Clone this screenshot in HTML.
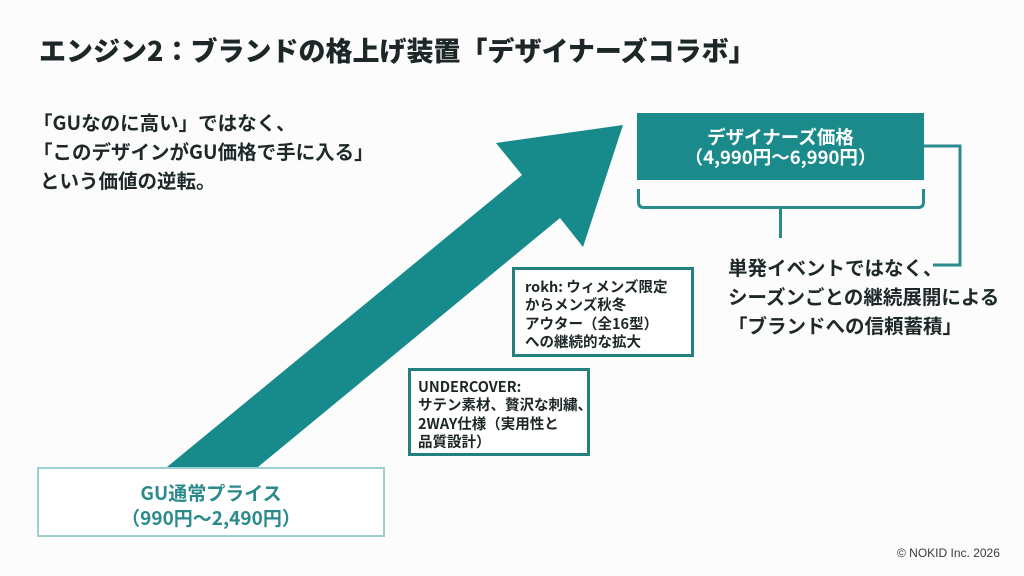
<!DOCTYPE html>
<html><head><meta charset="utf-8">
<style>
html,body{margin:0;padding:0;}
body{width:1024px;height:576px;position:relative;overflow:hidden;background:#fcfcfc;font-family:"Liberation Sans","Noto Sans CJK JP",sans-serif;color:#1e2828;}
.abs{position:absolute;white-space:nowrap;}
.title{left:39px;top:32px;font-size:27px;line-height:36px;font-weight:900;color:#1d2727;font-family:"Noto Sans CJK JP","Liberation Sans",sans-serif;}
.sub{left:33px;top:107px;font-size:19.5px;line-height:29px;font-weight:700;font-family:"Noto Sans CJK JP","Liberation Sans",sans-serif;}
.box{position:absolute;box-sizing:border-box;}
.small{font-size:14.5px;line-height:18.3px;font-weight:700;font-family:"Noto Sans CJK JP","Liberation Sans",sans-serif;color:#1d2626;}
.right{left:728px;top:252px;font-size:19.5px;line-height:29px;font-weight:700;font-family:"Noto Sans CJK JP","Liberation Sans",sans-serif;}
</style></head><body>
<svg width="1024" height="576" style="position:absolute;left:0;top:0">
  <polygon points="167,467 522,175 496,143 623,125 583,247 560,218 258,467" fill="#178a8b"/>
  <path d="M638.5,189 V202 Q638.5,207.5 644,207.5 H918 Q923.5,207.5 923.5,202 V189" fill="none" stroke="#2a8a8b" stroke-width="3"/>
  <path d="M780.5,207.5 V238" fill="none" stroke="#2a8a8b" stroke-width="3"/>
  <path d="M924,146 H960 V265 H933" fill="none" stroke="#2a8a8b" stroke-width="3"/>
</svg>

<div class="abs title">エンジン2：ブランドの格上げ装置「デザイナーズコラボ」</div>

<div class="abs sub">「GUなのに高い」ではなく、<br>「このデザインがGU価格で手に入る」<br><span style="margin-left:7px">という価値の逆転。</span></div>

<div class="box" style="left:637px;top:113px;width:287px;height:67px;background:#1b8a8b;"></div>
<div class="abs" style="left:637px;top:127px;width:287px;text-align:center;color:#fff;font-size:18.5px;line-height:20px;font-weight:700;font-family:'Noto Sans CJK JP','Liberation Sans',sans-serif;">デザイナーズ価格<br>（4,990円〜6,990円）</div>

<div class="box" style="left:512px;top:267px;width:182px;height:90px;border:3px solid #23807f;background:#fff;"></div>
<div class="abs small" style="left:525px;top:278px;">rokh: ウィメンズ限定<br>からメンズ秋冬<br>アウター（全16型）<br>への継続的な拡大</div>

<div class="box" style="left:408px;top:368px;width:182px;height:88px;border:3px solid #23807f;background:#fff;"></div>
<div class="abs small" style="left:418px;top:378px;">UNDERCOVER:<br>サテン素材、贅沢な刺繍、<br>2WAY仕様（実用性と<br>品質設計）</div>

<div class="box" style="left:37px;top:467px;width:348px;height:70px;border:2px solid #9ccfce;background:#fff;"></div>
<div class="abs" style="left:37px;top:480px;width:348px;text-align:center;color:#2a8a8c;font-size:19px;line-height:25px;font-weight:700;font-family:'Noto Sans CJK JP','Liberation Sans',sans-serif;">GU通常プライス<br>（990円〜2,490円）</div>

<div class="abs right">単発イベントではなく、<br>シーズンごとの継続展開による<br>「ブランドへの信頼蓄積」</div>

<div class="abs" style="left:897px;top:545px;font-size:12px;line-height:16px;color:#3a3a3a;">© NOKID Inc. 2026</div>
</body></html>
